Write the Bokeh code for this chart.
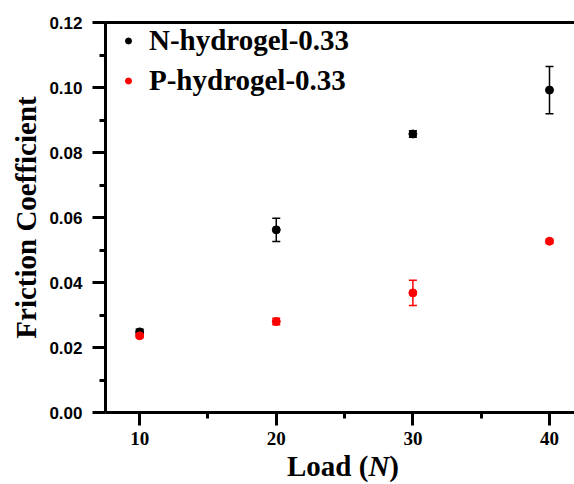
from bokeh.plotting import figure
from bokeh.models import (ColumnDataSource, Whisker, TeeHead, LinearAxis, Legend, LegendItem,
                          SingleIntervalTicker, FixedTicker, NumeralTickFormatter, Range1d, Div)
from bokeh.layouts import column
from bokeh.embed import file_html
from bokeh.resources import INLINE

# ---- data ----
loads = [10, 20, 30, 40]
n_mean = [0.0248, 0.0562, 0.0857, 0.0992]
n_err = [0.0008, 0.0036, 0.0010, 0.0073]
p_mean = [0.0236, 0.0280, 0.0368, 0.0527]
p_err = [0.0005, 0.0010, 0.0039, 0.0006]
series_names = ["N-hydrogel-0.33", "P-hydrogel-0.33"]
series_colors = ["black", "#ff0000"]
x_title = ["Load (", "N", ")"]
y_title = "Friction Coefficient"

p = figure(width=574, height=452, output_backend="svg", toolbar_location=None,
           x_range=Range1d(7.5, 41.83), y_range=Range1d(0, 0.12),
           min_border_left=105, min_border_top=22, min_border_right=0, min_border_bottom=40,
           x_axis_type=None, y_axis_type=None)
p.outline_line_color = None
p.grid.visible = False
p.background_fill_color = "white"
p.border_fill_color = "white"

# axes
xax = LinearAxis(ticker=SingleIntervalTicker(interval=10, num_minor_ticks=2))
yax = LinearAxis(ticker=SingleIntervalTicker(interval=0.02, num_minor_ticks=2),
                 formatter=NumeralTickFormatter(format="0.00"))
for ax in (xax, yax):
    ax.axis_line_width = 3
    ax.major_tick_line_width = 3
    ax.minor_tick_line_width = 3
    ax.major_tick_out = 13
    ax.major_tick_in = 0
    ax.minor_tick_out = 6
    ax.minor_tick_in = 0
    ax.major_label_text_font_style = "bold"
    ax.major_label_text_color = "black"
xax.major_label_text_font = "Liberation Serif"
xax.major_label_text_font_size = "19px"
xax.major_label_standoff = 6
yax.major_label_text_font = "Liberation Sans"
yax.major_label_text_font_size = "17px"
yax.major_label_standoff = 10
yax.axis_label = y_title
yax.axis_label_text_font = "Liberation Serif"
yax.axis_label_text_font_style = "bold"
yax.axis_label_text_font_size = "29px"
yax.axis_label_text_color = "black"
yax.axis_label_standoff = 4
p.add_layout(xax, "below")
p.add_layout(yax, "left")

top = LinearAxis(ticker=FixedTicker(ticks=[]), axis_line_width=3)
p.add_layout(top, "above")

# error bars and points
n_src = ColumnDataSource(dict(x=loads, y=n_mean,
                              lo=[m - e for m, e in zip(n_mean, n_err)],
                              hi=[m + e for m, e in zip(n_mean, n_err)]))
p_src = ColumnDataSource(dict(x=loads, y=p_mean,
                              lo=[m - e for m, e in zip(p_mean, p_err)],
                              hi=[m + e for m, e in zip(p_mean, p_err)]))

legend_renderers = []
for src, col in ((n_src, series_colors[0]), (p_src, series_colors[1])):
    w = Whisker(source=src, base="x", lower="lo", upper="hi", line_color=col, line_width=1.5,
                upper_head=TeeHead(size=8, line_color=col, line_width=1.5),
                lower_head=TeeHead(size=8, line_color=col, line_width=1.5))
    p.add_layout(w)
    p.scatter("x", "y", source=src, size=8, color=col)
    # legend-only proxy (smaller dot as in the reference legend), not drawn in the plot
    lr = p.scatter(x=[float("nan")], y=[float("nan")], size=5, color=col)
    legend_renderers.append(lr)

legend = Legend(items=[LegendItem(label=series_names[i], renderers=[legend_renderers[i]]) for i in range(2)],
                location="top_left", margin=2, padding=4, glyph_width=42, glyph_height=15,
                label_height=30, spacing=7, label_standoff=0,
                label_text_font="Liberation Serif", label_text_font_style="bold",
                label_text_font_size="29px", label_text_color="black",
                border_line_color=None, background_fill_alpha=0)
p.add_layout(legend, "center")

# x-axis title with italic N (HTML text)
div = Div(text=f"{x_title[0]}<i>{x_title[1]}</i>{x_title[2]}", width=200, height=30,
          margin=(0, 0, 0, 287),
          styles={"font-family": "Liberation Serif", "font-weight": "bold", "font-size": "29px",
                  "line-height": "28px", "color": "black", "white-space": "nowrap"})

layout = column(p, div, spacing=0)
open("out.html", "w").write(file_html(layout, INLINE))
